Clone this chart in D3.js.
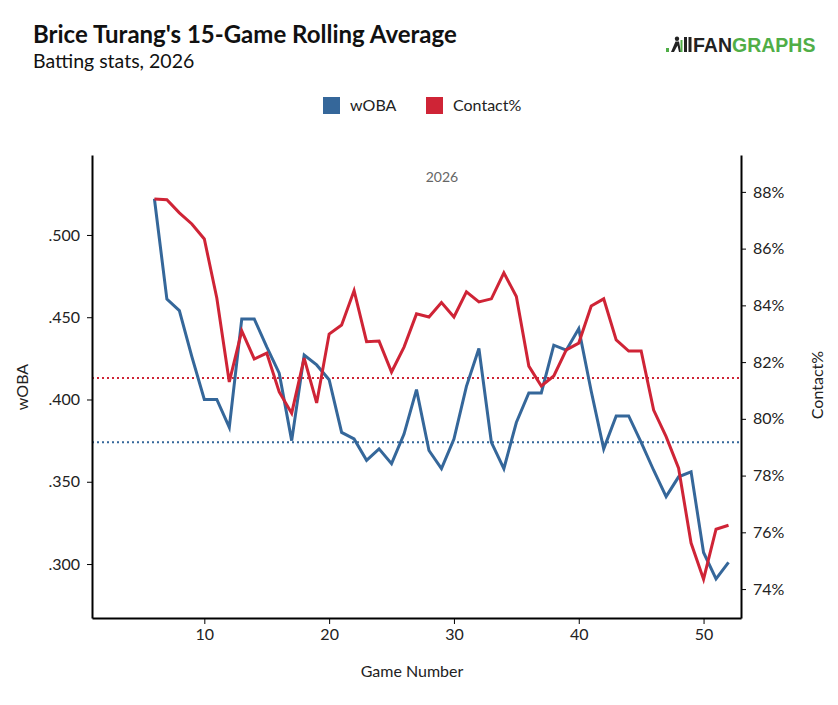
<!DOCTYPE html>
<html>
<head>
<meta charset="utf-8">
<script src="https://cdn.jsdelivr.net/npm/d3@7"></script>
<style>
  body { margin: 0; background: #fff; font-family: Lato, "Open Sans", sans-serif; }
  .axis path, .axis line { stroke: #000; }
  .axis text { font-family: Lato, sans-serif; font-size: 16px; fill: #222; }
</style>
</head>
<body>
<div id="chart"></div>
<script>
// game numbers of the rolling window
var games = d3.range(6, 53);

var woba = [.522, .461, .454, .426, .400, .400, .383, .449, .449, .432, .416, .375,
  .427, .421, .412, .380, .376, .363, .370, .361, .379, .406, .369, .358, .376,
  .408, .431, .374, .358, .386, .404, .404, .433, .430, .443, .405, .370, .390,
  .390, .374, .357, .341, .353, .356, .307, .291, .301];

var contact = [87.75, 87.72, 87.26, 86.87, 86.34, 84.26, 81.30, 83.10, 82.11, 82.32,
  80.95, 80.20, 82.14, 80.56, 82.99, 83.31, 84.52, 82.72, 82.74, 81.65, 82.53,
  83.70, 83.59, 84.10, 83.59, 84.48, 84.12, 84.23, 85.15, 84.31, 81.86, 81.16,
  81.51, 82.43, 82.67, 83.98, 84.23, 82.78, 82.39, 82.39, 80.31, 79.37, 78.26,
  75.62, 74.35, 76.11, 76.25];

var wobaAvg = .374;
var contactAvg = 81.44;

var xTicks = [10, 20, 30, 40, 50];
var wobaTicks = [.300, .350, .400, .450, .500];
var contactTicks = [74, 76, 78, 80, 82, 84, 86, 88];

var blue = "#35679a", red = "#cf2436", green = "#50ae47";

var width = 838, height = 705;
var margin = {top: 155, right: 97, bottom: 87, left: 92};

var svg = d3.select("#chart").append("svg")
    .attr("width", width)
    .attr("height", height);

var x = d3.scaleLinear().domain([1, 53]).range([margin.left, width - margin.right]);
var yL = d3.scaleLinear().domain([0.2672, 0.5486]).range([height - margin.bottom, margin.top]);
var yR = d3.scaleLinear().domain([72.98, 89.30]).range([height - margin.bottom, margin.top]);

// title + subtitle
svg.append("text")
    .attr("x", 33).attr("y", 43)
    .style("font-size", "24px").style("font-weight", "bold").style("fill", "#111")
    .text("Brice Turang's 15-Game Rolling Average");
svg.append("text")
    .attr("x", 33).attr("y", 68)
    .style("font-size", "19.5px").style("fill", "#111")
    .text("Batting stats, 2026");

// logo
var logo = svg.append("g").attr("transform", "translate(666,37)");
logo.append("rect").attr("x", 0).attr("y", 11).attr("width", 3).attr("height", 4).attr("fill", green);
logo.append("circle").attr("cx", 11).attr("cy", 1.8).attr("r", 2.2).attr("fill", "#222");
logo.append("path").attr("d", "M5,15 L9.5,4.5 L13,4.5 L15,15 L13,15 L11.5,8.5 L8,15 Z").attr("fill", "#222");
logo.append("rect").attr("x", 14.5).attr("y", 3).attr("width", 2).attr("height", 12).attr("fill", green);
logo.append("rect").attr("x", 18).attr("y", 0).attr("width", 3).attr("height", 15).attr("fill", "#222");
logo.append("rect").attr("x", 22.5).attr("y", 0).attr("width", 3).attr("height", 15).attr("fill", "#222");
var logoText = logo.append("text").attr("x", 27).attr("y", 15)
    .style("font-family", "'Liberation Sans', Arial, sans-serif")
    .style("font-size", "19.5px").style("font-weight", "bold");
logoText.append("tspan").attr("fill", "#222").text("FAN");
logoText.append("tspan").attr("fill", green).text("GRAPHS");

// legend
var legend = [{name: "wOBA", color: blue, x: 323}, {name: "Contact%", color: red, x: 426}];
var lg = svg.selectAll(".leg").data(legend).enter().append("g")
    .attr("transform", function(d) { return "translate(" + d.x + ",97)"; });
lg.append("rect").attr("width", 17).attr("height", 17).attr("fill", function(d) { return d.color; });
lg.append("text").attr("x", 27).attr("y", 14)
    .style("font-size", "16px").style("fill", "#222")
    .text(function(d) { return d.name; });

// season label
svg.append("text")
    .attr("x", 442).attr("y", 182)
    .attr("text-anchor", "middle")
    .style("font-size", "14px").style("fill", "#666")
    .text("2026");

// average reference lines
svg.append("line")
    .attr("x1", x.range()[0]).attr("x2", x.range()[1])
    .attr("y1", yR(contactAvg)).attr("y2", yR(contactAvg))
    .attr("stroke", red).attr("stroke-width", 2).attr("stroke-dasharray", "2 3");
svg.append("line")
    .attr("x1", x.range()[0]).attr("x2", x.range()[1])
    .attr("y1", yL(wobaAvg)).attr("y2", yL(wobaAvg))
    .attr("stroke", blue).attr("stroke-width", 2).attr("stroke-dasharray", "2 3");

// lines
var wobaLine = d3.line()
    .x(function(d, i) { return x(games[i]); })
    .y(function(d) { return yL(d); });
var contactLine = d3.line()
    .x(function(d, i) { return x(games[i]); })
    .y(function(d) { return yR(d); });

svg.append("path").datum(woba)
    .attr("fill", "none").attr("stroke", blue).attr("stroke-width", 3)
    .attr("stroke-linejoin", "miter").attr("d", wobaLine);
svg.append("path").datum(contact)
    .attr("fill", "none").attr("stroke", red).attr("stroke-width", 3)
    .attr("stroke-linejoin", "miter").attr("d", contactLine);

// axes
svg.append("g").attr("class", "axis")
    .attr("transform", "translate(0," + (height - margin.bottom) + ")")
    .call(d3.axisBottom(x).tickValues(xTicks).tickSize(6).tickSizeOuter(0).tickPadding(5));
var gl = svg.append("g").attr("class", "axis")
    .attr("transform", "translate(" + margin.left + ",0)")
    .call(d3.axisLeft(yL).tickValues(wobaTicks).tickSize(5).tickSizeOuter(0).tickPadding(7));
gl.selectAll("text").text(function(d) { return d3.format(".3f")(d).replace(/^0/, ""); });
svg.append("g").attr("class", "axis")
    .attr("transform", "translate(" + (width - margin.right) + ",0)")
    .call(d3.axisRight(yR).tickValues(contactTicks).tickFormat(function(d) { return d + "%"; }).tickSize(5).tickSizeOuter(0).tickPadding(7));
svg.selectAll(".axis path").attr("stroke-width", 2);

// axis titles
svg.append("text")
    .attr("transform", "translate(28,387) rotate(-90)")
    .attr("text-anchor", "middle")
    .style("font-size", "16px").style("fill", "#222")
    .text("wOBA");
svg.append("text")
    .attr("transform", "translate(823,385) rotate(-90)")
    .attr("text-anchor", "middle")
    .style("font-size", "16px").style("fill", "#222")
    .text("Contact%");
svg.append("text")
    .attr("x", 412).attr("y", 677)
    .attr("text-anchor", "middle")
    .style("font-size", "16px").style("fill", "#222")
    .text("Game Number");
</script>
</body>
</html>
